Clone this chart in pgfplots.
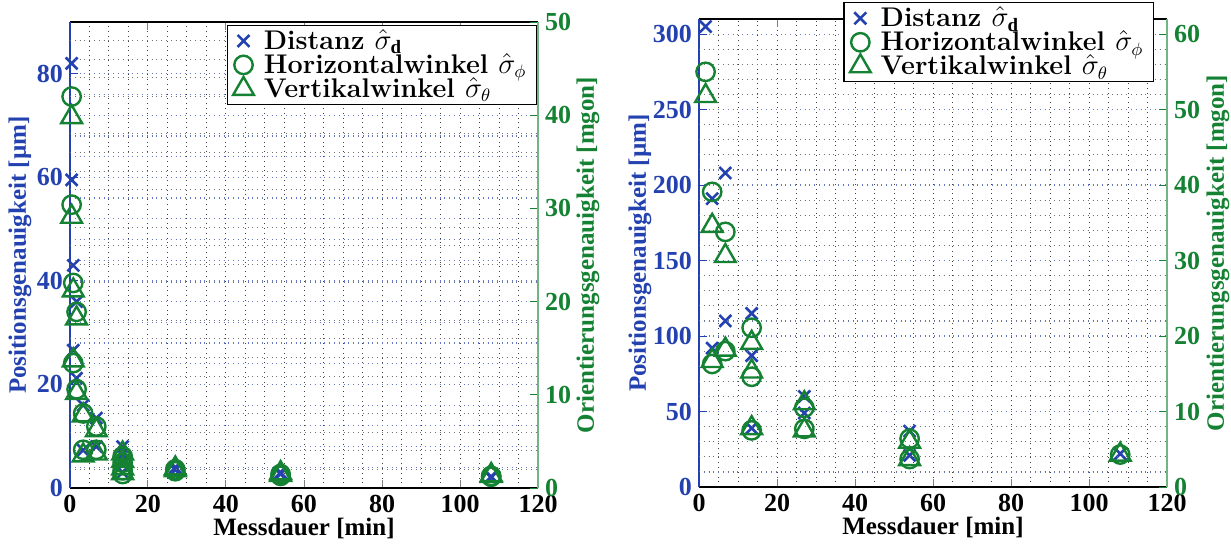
\documentclass[border=0pt]{standalone}
\usepackage{fontspec}
\setmainfont{Liberation Serif}
\newfontfamily\lmr{Latin Modern Roman}
\usepackage{pgfplots}
\pgfplotsset{compat=1.18}
\definecolor{mblue}{RGB}{35,65,175}
\definecolor{mgreen}{RGB}{20,130,50}
\pgfplotsset{
  base/.style={
    scale only axis, width=234pt,
    xmin=0, xmax=120, xtick={0,20,...,120},
    clip=false,
    tick label style={font=\bfseries\fontsize{13}{15}\selectfont},
    /pgf/number format/assume math mode=true,
    label style={font=\bfseries\fontsize{12.5}{14}\selectfont},
    major tick length=4pt, minor tick length=0pt,
    tick style={line width=0.5pt},
  },
  lefta/.style={base,
    axis y line*=left, axis x line*=box,
    y axis line style={mblue, line width=0.6pt},
    x axis line style={black, line width=0.6pt},
    yticklabel style={text=mblue},
    ytick style={mblue},
    ylabel style={text=mblue},
    xmajorgrids, xminorgrids, ymajorgrids, yminorgrids,
    minor x tick num=3,
    major x grid style={black!75, dotted, line width=0.5pt},
    minor x grid style={black!75, dotted, line width=0.5pt},
    major y grid style={mblue!70, dotted, line width=0.6pt},
    minor y grid style={mblue!70, dotted, line width=0.6pt},
    xlabel={Messdauer [min]},
    xlabel style={at={(axis description cs:0.5,-0.086)}, anchor=center},
  },
  righta/.style={base,
    axis y line*=right, axis x line=none,
    y axis line style={mgreen!60, line width=0.6pt},
    yticklabel style={text=mgreen},
    ytick style={mgreen},
    ylabel style={text=mgreen},
    yminorgrids,
    minor y grid style={black!55, dotted, line width=0.5pt},
    legend cell align=left,
    legend style={font=\lmr\bfseries\fontsize{13.5}{14}\selectfont,
      draw=black, line width=0.6pt, fill=white, inner xsep=3pt, inner ysep=1pt,
      row sep=-1.5pt, nodes={inner ysep=1pt, inner xsep=2pt},
      /tikz/every odd column/.style={column sep=3pt}},
  },
  dmark/.style={only marks, mark=x, mark size=4.2pt, mblue, line width=1.3pt},
  hmark/.style={only marks, mark=o, mark size=4.6pt, mgreen, line width=1.2pt},
  vmark/.style={only marks, mark=triangle, mark size=6pt, mgreen, line width=1.2pt},
}
\begin{document}
\begin{tikzpicture}
\path[use as bounding box] (-35pt,-27.5pt) rectangle (580.5pt,244pt);
% ---------------- left panel ----------------
\begin{axis}[lefta, at={(0pt,0pt)}, height=233pt,
  ymin=0, ymax=90, ytick={0,20,...,80}, minor y tick num=4,
  ylabel={Positionsgenauigkeit [µm]},
  ylabel style={at={(axis description cs:-0.107,0.5)}, anchor=center}]
\addplot[dmark] coordinates {
(0.42,82) (0.42,59.5) (0.84,43) (0.84,26.6) (1.69,36) (1.69,21.2)
(3.38,16) (3.38,7.3) (6.75,13.5) (6.75,8) (13.5,8) (13.5,6.5) (13.5,4.5) (13.5,3)
(27,4) (27,3.5) (54,3) (54,2.7) (108,2.2) (108,2)};
\end{axis}
\begin{axis}[righta, at={(0pt,0pt)}, height=233pt,
  ymin=0, ymax=50, ytick={0,10,...,50}, minor y tick num=4,
  ylabel={Orientierungsgenauigkeit [mgon]},
  ylabel style={at={(axis description cs:1.107,0.5)}, anchor=center},
  legend style={at={(rel axis cs:0.998,0.994)}, anchor=north east}]
\addlegendimage{dmark}
\addlegendentry{Distanz $\hat{\sigma}_{\mathbf{d}}$}
\addplot[hmark] coordinates {
(0.42,42) (0.42,30.4) (0.84,22) (0.84,13.4) (1.69,18.9) (1.69,10.6)
(3.38,8) (3.38,4.1) (6.75,6.6) (6.75,4.1) (13.5,3.4) (13.5,2.7) (13.5,1.9) (13.5,1.5)
(27,2.0) (27,1.8) (54,1.5) (54,1.3) (108,1.3) (108,1.2)};
\addlegendentry{Horizontalwinkel $\hat{\sigma}_{\phi}$}
\addplot[vmark] coordinates {
(0.42,39.8) (0.42,29.1) (0.84,21.2) (0.84,13.7) (1.69,18.2) (1.69,10.2)
(3.38,7.8) (3.38,3.5) (6.75,6.2) (6.75,3.7) (13.5,3.7) (13.5,2.9) (13.5,2.1) (13.5,1.6)
(27,2.1) (27,1.9) (54,1.6) (54,1.4) (108,1.4) (108,1.3)};
\addlegendentry{Vertikalwinkel $\hat{\sigma}_{\theta}$}
\end{axis}
% ---------------- right panel ----------------
\begin{axis}[lefta, at={(314.5pt,0.5pt)}, height=234pt,
  ymin=0, ymax=310, ytick={0,50,...,300}, minor y tick num=4,
  ylabel={Positionsgenauigkeit [µm]},
  ylabel style={at={(axis description cs:-0.126,0.5)}, anchor=center}]
\addplot[dmark] coordinates {
(1.69,305) (3.38,191) (3.38,92) (6.75,208) (6.75,110)
(13.5,115) (13.5,87) (13.5,39) (27,60) (27,49) (54,37) (54,21) (108,22)};
\end{axis}
\begin{axis}[righta, at={(314.5pt,0.5pt)}, height=234pt,
  ymin=0, ymax=62, ytick={0,10,...,60}, minor y tick num=4,
  ylabel={Orientierungsgenauigkeit [mgon]},
  ylabel style={at={(axis description cs:1.109,0.5)}, anchor=center},
  legend style={at={(rel axis cs:0.972,1.036)}, anchor=north east}]
\addlegendimage{dmark}
\addlegendentry{Distanz $\hat{\sigma}_{\mathbf{d}}$}
\addplot[hmark] coordinates {
(1.69,55) (3.38,39.1) (3.38,16.3) (6.75,33.8) (6.75,18)
(13.5,21.1) (13.5,14.6) (13.5,7.5) (27,10.5) (27,7.7) (54,6.4) (54,3.7) (108,4.3)};
\addlegendentry{Horizontalwinkel $\hat{\sigma}_{\phi}$}
\addplot[vmark] coordinates {
(1.69,51.8) (3.38,34.6) (3.38,16.7) (6.75,30.6) (6.75,18.2)
(13.5,19.1) (13.5,15.3) (13.5,7.8) (27,11.1) (27,7.5) (54,6.0) (54,3.7) (108,4.3)};
\addlegendentry{Vertikalwinkel $\hat{\sigma}_{\theta}$}
\end{axis}
\end{tikzpicture}
\end{document}
